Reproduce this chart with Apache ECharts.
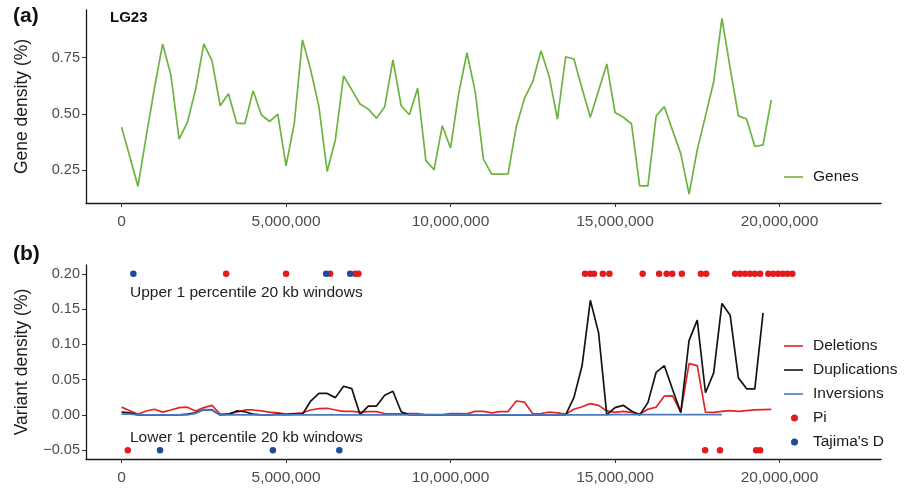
<!DOCTYPE html>
<html>
<head>
<meta charset="utf-8">
<script src="https://cdn.jsdelivr.net/npm/echarts@6/dist/echarts.min.js"></script>
<style>
  html, body { margin: 0; padding: 0; background: #fff; }
  #chart { width: 914px; height: 488px; }
</style>
</head>
<body>
<div id="chart"></div>
<script>
// Window size (bp) used for the density tracks along LG23
const WINDOW = 250000;

// Gene density per 250 kb window (%)
const geneDensity = [
  0.441, 0.31, 0.177, 0.40, 0.614, 0.811, 0.673, 0.388, 0.461, 0.607,
  0.811, 0.737, 0.536, 0.589, 0.459, 0.457, 0.603, 0.496, 0.466, 0.499,
  0.269, 0.456, 0.829, 0.695, 0.532, 0.244, 0.385, 0.669, 0.607, 0.544,
  0.521, 0.481, 0.532, 0.740, 0.536, 0.496, 0.614, 0.293, 0.251, 0.447,
  0.348, 0.592, 0.772, 0.599, 0.299, 0.232, 0.232, 0.233, 0.444, 0.570,
  0.643, 0.781, 0.666, 0.477, 0.754, 0.744, 0.612, 0.485, 0.603, 0.722,
  0.506, 0.485, 0.456, 0.180, 0.180, 0.491, 0.532, 0.426, 0.322, 0.143,
  0.340, 0.491, 0.643, 0.925, 0.703, 0.491, 0.477, 0.355, 0.362, 0.562
];

// Structural variant density per window (%)
const deletions = [
  0.011, 0.006, 0.001, 0.0056, 0.008, 0.004, 0.007, 0.0104, 0.011, 0.0056,
  0.0104, 0.0136, 0.001, 0.001, 0.004, 0.007, 0.007, 0.0056, 0.004, 0.003,
  0.001, 0.002, 0.003, 0.007, 0.009, 0.0094, 0.007, 0.005, 0.005, 0.004,
  0.0047, 0.0047, 0.002, 0.0015, 0.0015, 0.002, 0.002, 0.0005, 0.0005, 0.0005,
  0.002, 0.002, 0.0015, 0.005, 0.005, 0.003, 0.0047, 0.0047, 0.0197, 0.018,
  0.0015, 0.002, 0.004, 0.003, 0.001, 0.008, 0.0115, 0.016, 0.0135, 0.0056,
  0.0035, 0.005, 0.0035, 0.001, 0.008, 0.011, 0.0267, 0.027, 0.0035, 0.0726,
  0.0698, 0.004, 0.0035, 0.005, 0.006, 0.005, 0.006, 0.007, 0.0076, 0.0078
];

const duplications = [
  0.004, 0.003, 0, 0, 0, 0, 0, 0, 0.001, 0.003,
  0.0075, 0.007, 0, 0.001, 0.0056, 0.0045, 0.001, 0, 0, 0.001,
  0.0005, 0.001, 0.001, 0.0197, 0.0305, 0.0305, 0.0245, 0.0407, 0.0372, 0.0005,
  0.0125, 0.0125, 0.028, 0.0335, 0.0045, 0, 0, 0, 0, 0,
  0, 0, 0, 0, 0, 0, 0, 0, 0, 0,
  0, 0, 0, 0, 0, 0.0245, 0.07, 0.1625, 0.1166, 0,
  0.0104, 0.0136, 0.0056, 0, 0.0174, 0.0604, 0.0698, 0.036, 0.0033, 0.1053,
  0.1344, 0.0314, 0.0595, 0.158, 0.1414, 0.0525, 0.037, 0.037, 0.1447
];

const inversions = [
  0.001, 0.001, 0, 0, 0, 0, 0, 0, 0, 0.002,
  0.0075, 0.0065, 0, 0, 0, 0, 0, 0, 0, 0,
  0, 0, 0, 0, 0, 0, 0, 0, 0, 0,
  0, 0, 0, 0, 0, 0, 0, 0, 0, 0,
  0, 0, 0, 0, 0, 0, 0, 0, 0, 0,
  0, 0, 0, 0, 0, 0, 0, 0, 0, 0,
  0.0005, 0.0005, 0.0005, 0.0005, 0.0005, 0.0005, 0.0005, 0.0005, 0.0005, 0.0005,
  0.0005, 0.0005, 0.0005, 0.0005
];

// Positions (bp) of 20 kb windows in the upper / lower 1st percentile
const piUpper = [3.18e6, 5.0e6, 6.34e6, 7.1e6, 7.2e6,
  14.09e6, 14.24e6, 14.36e6, 14.63e6, 14.83e6, 15.84e6,
  16.34e6, 16.57e6, 16.74e6, 17.03e6, 17.61e6, 17.77e6,
  18.65e6, 18.80e6, 18.95e6, 19.10e6, 19.25e6, 19.41e6,
  19.66e6, 19.81e6, 19.96e6, 20.10e6, 20.24e6, 20.39e6];
const piLower = [0.19e6, 17.74e6, 18.19e6, 19.29e6, 19.41e6];
const tajimaUpper = [0.36e6, 6.22e6, 6.95e6];
const tajimaLower = [1.17e6, 4.6e6, 6.62e6];

// Row heights used for the outlier tracks
const UPPER_ROW = 0.20;
const LOWER_ROW = -0.05;

// Axis tick values
const xTicks = [0, 5e6, 10e6, 15e6, 20e6];
const geneTicks = [0.25, 0.50, 0.75];
const variantTicks = [-0.05, 0, 0.05, 0.10, 0.15, 0.20];

const FONT = 'Liberation Sans, Arial, sans-serif';
const C = {
  gene: '#6db33f',
  del: '#e3242b',
  dup: '#141414',
  inv: '#4a79c0',
  pi: '#e41a1c',
  taj: '#1f4a9c',
  tick: '#4d4d4d'
};

const withPos = arr => arr.map((v, i) => [i * WINDOW, v]);
const atRow = (arr, y) => arr.map(x => [x, y]);
const fmtBp = v => Math.round(v).toLocaleString('en-US');
const fmtDens = v => (v < 0 ? '\u2212' : '') + Math.abs(v).toFixed(2);

function xAxis(gridIndex) {
  return {
    type: 'value', gridIndex,
    min: -1.08e6, max: 23.085e6,
    splitLine: { show: false },
    axisLine: { show: true, onZero: false, lineStyle: { color: '#1a1a1a', width: 1.3 } },
    axisTick: { show: true, customValues: xTicks, length: 4, lineStyle: { color: '#333' } },
    axisLabel: { customValues: xTicks, formatter: fmtBp, color: C.tick, fontSize: 15.5, fontFamily: FONT, margin: 11 }
  };
}

function yAxis(gridIndex, min, max, ticks, title) {
  return {
    type: 'value', gridIndex, min, max,
    name: title, nameLocation: 'middle', nameGap: 55,
    nameTextStyle: { color: '#1a1a1a', fontSize: 17.5, fontFamily: FONT },
    splitLine: { show: false },
    axisLine: { show: true, onZero: false, lineStyle: { color: '#1a1a1a', width: 1.3 } },
    axisTick: { show: true, customValues: ticks, length: 4, lineStyle: { color: '#333' } },
    axisLabel: { customValues: ticks, formatter: fmtDens, color: C.tick, fontSize: 14.5, fontFamily: FONT, margin: 6 }
  };
}

function legendItem(name, top, isDot) {
  return {
    data: [name], left: isDot ? 791 : 784, top,
    icon: isDot ? 'circle' : 'rect',
    itemWidth: isDot ? 7 : 19, itemHeight: isDot ? 7 : 1.6,
    itemGap: 0, padding: 0,
    textStyle: { fontSize: 15.5, fontFamily: FONT, color: '#1a1a1a', padding: [0, 0, 0, isDot ? 10 : 5] },
    selectedMode: false
  };
}

const lineSeries = (name, data, color, xi, yi) => ({
  name, type: 'line', xAxisIndex: xi, yAxisIndex: yi, data,
  showSymbol: false, symbol: 'none', smooth: false,
  lineStyle: { color, width: 1.7 }, itemStyle: { color },
  silent: true, animation: false
});

const dotSeries = (name, data, color) => ({
  name, type: 'scatter', xAxisIndex: 1, yAxisIndex: 1, data,
  symbolSize: 6.5, itemStyle: { color, opacity: 1 },
  silent: true, animation: false
});

const chart = echarts.init(document.getElementById('chart'), null, { renderer: 'canvas' });
chart.setOption({
  backgroundColor: '#fff',
  animation: false,
  grid: [
    { left: 86, right: 33, top: 10, height: 193 },
    { left: 86, right: 33, top: 265, height: 194 }
  ],
  xAxis: [xAxis(0), xAxis(1)],
  yAxis: [
    yAxis(0, 0.1035, 0.962, geneTicks, 'Gene density (%)'),
    yAxis(1, -0.0625, 0.2125, variantTicks, 'Variant density (%)')
  ],
  legend: [
    legendItem('Genes', 169, false),
    legendItem('Deletions', 338, false),
    legendItem('Duplications', 362, false),
    legendItem('Inversions', 386, false),
    legendItem('Pi', 410, true),
    legendItem("Tajima's D", 434, true)
  ],
  graphic: [
    { type: 'text', left: 13, top: 6, style: { text: '(a)', font: 'bold 21px ' + FONT, fill: '#111' } },
    { type: 'text', left: 13, top: 244, style: { text: '(b)', font: 'bold 21px ' + FONT, fill: '#111' } },
    { type: 'text', left: 110, top: 10, style: { text: 'LG23', font: 'bold 15px ' + FONT, fill: '#111' } },
    { type: 'text', left: 130, top: 285, style: { text: 'Upper 1 percentile 20 kb windows', font: '15.5px ' + FONT, fill: '#222' } },
    { type: 'text', left: 130, top: 430, style: { text: 'Lower 1 percentile 20 kb windows', font: '15.5px ' + FONT, fill: '#222' } }
  ],
  series: [
    lineSeries('Genes', withPos(geneDensity), C.gene, 0, 0),
    lineSeries('Deletions', withPos(deletions), C.del, 1, 1),
    lineSeries('Duplications', withPos(duplications), C.dup, 1, 1),
    lineSeries('Inversions', withPos(inversions), C.inv, 1, 1),
    dotSeries('Pi', atRow(piUpper, UPPER_ROW).concat(atRow(piLower, LOWER_ROW)), C.pi),
    dotSeries("Tajima's D", atRow(tajimaUpper, UPPER_ROW).concat(atRow(tajimaLower, LOWER_ROW)), C.taj)
  ]
});
</script>
</body>
</html>
